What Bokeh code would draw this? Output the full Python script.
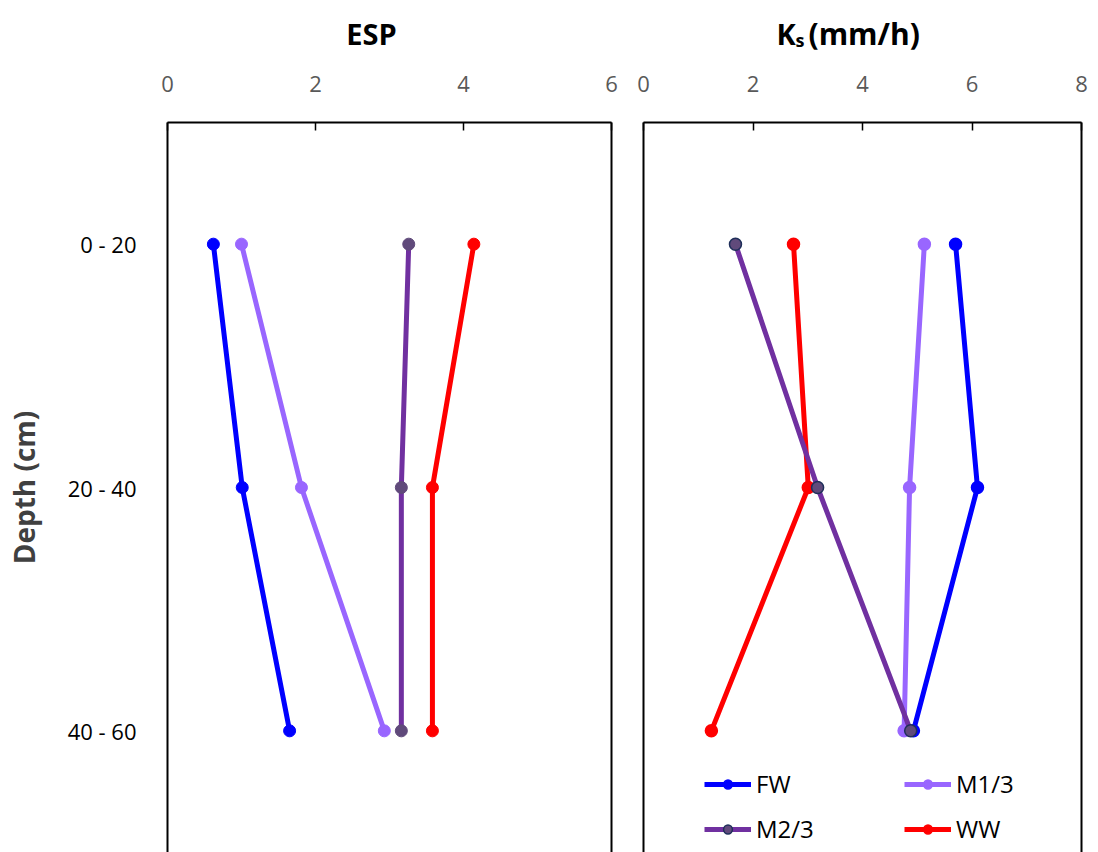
from bokeh.plotting import figure
from bokeh.layouts import row, column
from bokeh.models import (FactorRange, Range1d, CategoricalAxis, FixedTicker,
                          Legend, LegendItem)
from bokeh.core.properties import value
from bokeh.embed import file_html
from bokeh.resources import INLINE

# ---------------- data ----------------
depth = ["0 - 20", "20 - 40", "40 - 60"]
series_names = ["FW", "M1/3", "M2/3", "WW"]

esp_fw = [0.62, 1.01, 1.65]
esp_m13 = [1.00, 1.81, 2.93]
esp_m23 = [3.26, 3.16, 3.16]
esp_ww = [4.14, 3.58, 3.58]

ks_fw = [5.70, 6.10, 4.93]
ks_m13 = [5.13, 4.86, 4.76]
ks_m23 = [1.68, 3.18, 4.88]
ks_ww = [2.74, 3.01, 1.24]

esp_ticks = [0, 2, 4, 6]
ks_ticks = [0, 2, 4, 6, 8]

FONT = "Open Sans"
line_colors = {"FW": "#0000FF", "M1/3": "#9966FF", "M2/3": "#7030A0", "WW": "#FF0000"}
marker_fill = {"FW": "#0000FF", "M1/3": "#9966FF", "M2/3": "#604A7B", "WW": "#FF0000"}
draw_order = ["M1/3", "FW", "WW", "M2/3"]

HEADER_H = 62


def base_fig(width, xmax, ticks, left, right):
    p = figure(width=width, height=852 - HEADER_H, x_range=Range1d(0, xmax),
               y_range=FactorRange(factors=depth[::-1]),
               x_axis_location="above", output_backend="svg",
               toolbar_location=None, min_border_left=left,
               min_border_right=right, min_border_top=122 - HEADER_H,
               min_border_bottom=0)
    p.outline_line_color = None
    p.xgrid.visible = False
    p.ygrid.visible = False
    p.background_fill_color = "white"
    p.border_fill_color = "white"
    xa = p.xaxis[0]
    xa.ticker = FixedTicker(ticks=ticks)
    xa.major_tick_in = 8
    xa.major_tick_out = 0
    xa.minor_tick_line_color = None
    xa.axis_line_width = 2
    xa.axis_line_color = "black"
    xa.major_tick_line_color = "black"
    xa.major_tick_line_width = 1.5
    xa.major_label_text_font = FONT
    xa.major_label_text_font_size = "22px"
    xa.major_label_text_color = "#595959"
    xa.major_label_standoff = 31
    ya = p.yaxis[0]
    ya.axis_line_width = 2
    ya.axis_line_color = "black"
    ya.major_tick_line_color = None
    ya.minor_tick_line_color = None
    ra = CategoricalAxis(axis_line_width=2, axis_line_color="black",
                         ticker=FixedTicker(ticks=[]),
                         major_tick_line_color=None, minor_tick_line_color=None,
                         major_label_standoff=0)
    p.add_layout(ra, "right")
    return p


# ---------------- header with panel titles ----------------
header = figure(width=1098, height=HEADER_H, x_range=Range1d(0, 1098),
                y_range=Range1d(HEADER_H, 0), output_backend="svg",
                toolbar_location=None, min_border=0)
header.axis.visible = False
header.grid.visible = False
header.outline_line_color = None
header.border_fill_color = "white"
header.background_fill_color = "white"
tstyle = dict(text_font=value(FONT), text_font_style="bold", text_color="black",
              text_baseline="alphabetic")
header.text(x=[371], y=[33], text=["ESP"], text_align="center",
            text_font_size="29px", **tstyle)
header.text(x=[776], y=[33], text=["K"], text_align="left",
            text_font_size="29px", **tstyle)
header.text(x=[795], y=[39], text=["s"], text_align="left",
            text_font_size="18px", **tstyle)
header.text(x=[808], y=[33], text=["(mm/h)"], text_align="left",
            text_font_size="30px", **tstyle)

# ---------------- left panel: ESP ----------------
p1 = base_fig(627, 6, esp_ticks, 167, 16)
ya = p1.yaxis[0]
ya.major_label_text_font = FONT
ya.major_label_text_font_size = "22px"
ya.major_label_text_color = "black"
ya.major_label_standoff = 25
ya.axis_label = "Depth (cm)"
ya.axis_label_text_font = FONT
ya.axis_label_text_font_style = "bold"
ya.axis_label_text_font_size = "28px"
ya.axis_label_text_color = "#404040"
ya.axis_label_standoff = 22

esp = {"FW": esp_fw, "M1/3": esp_m13, "M2/3": esp_m23, "WW": esp_ww}
for name in draw_order:
    p1.line(esp[name], depth, line_color=line_colors[name], line_width=5)
    p1.scatter(esp[name], depth, size=12, fill_color=marker_fill[name],
               line_color=marker_fill[name])

# ---------------- right panel: Ks ----------------
p2 = base_fig(471, 8, ks_ticks, 16, 17)
p2.yaxis[0].ticker = FixedTicker(ticks=[])
p2.yaxis[0].major_label_standoff = 0

ks = {"FW": ks_fw, "M1/3": ks_m13, "M2/3": ks_m23, "WW": ks_ww}
rends = {}
for name in draw_order:
    l = p2.line(ks[name], depth, line_color=line_colors[name], line_width=5)
    outline = "#1F2F5A" if name == "M2/3" else marker_fill[name]
    s = p2.scatter(ks[name], depth, size=12, fill_color=marker_fill[name],
                   line_color=outline, line_width=1.5)
    rends[name] = [l, s]

# column-major fill: gives rows FW | M1/3 and M2/3 | WW
legend_order = ["FW", "M2/3", "M1/3", "WW"]
legend = Legend(items=[LegendItem(label=n, renderers=rends[n]) for n in legend_order],
                ncols=2, location=(61, 7), glyph_width=47, glyph_height=22,
                label_text_font=FONT, label_text_font_size="24px",
                label_text_color="black", label_standoff=5, spacing=12,
                label_width=136, padding=0, margin=0, border_line_color=None,
                background_fill_alpha=0)
p2.add_layout(legend)

layout = column(header, row(p1, p2))
open("out.html", "w").write(file_html(layout, INLINE))
